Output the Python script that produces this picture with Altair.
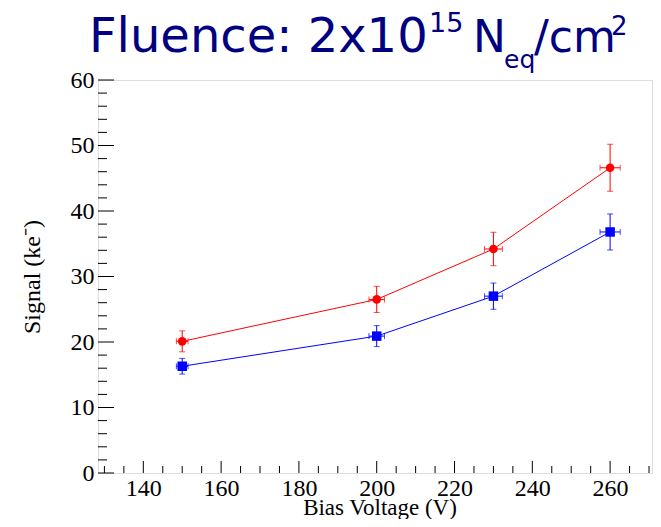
import altair as alt
import pandas as pd

# ---- data ----
voltage = [150, 200, 230, 260]
voltage_err = [1.5, 2.0, 2.3, 2.6]
red_signal = [20.1, 26.5, 34.2, 46.6]
red_err = [1.6, 2.0, 2.55, 3.6]
blue_signal = [16.3, 20.9, 27.0, 36.8]
blue_err = [1.2, 1.6, 2.0, 2.75]

x_major = [140, 160, 180, 200, 220, 240, 260]
x_minor = [v for v in range(130, 275, 5) if v not in x_major]
y_major = [0, 10, 20, 30, 40, 50, 60]
y_minor = [v for v in range(0, 61, 2) if v not in y_major]

title_parts = ["Fluence: 2x10", "15", "N", "eq", "/cm", "2"]
x_title = "Bias Voltage (V)"
y_title = "Signal (ke⁻)"

# ---- layout ----
W, H = 554, 393
# (x, baseline y, font size) relative to plot area's top-left
title_pos = [(-9, -28.5, 48), (331, -48, 27), (375, -28.5, 44), (406, -12, 25), (436, -28.5, 44), (513, -45, 26)]

rows = []
for name, sig, err in (("red", red_signal, red_err), ("blue", blue_signal, blue_err)):
    for v, ve, s, se in zip(voltage, voltage_err, sig, err):
        rows.append(dict(series=name, v=v, vlo=v - ve, vhi=v + ve, s=s, slo=s - se, shi=s + se))
df = pd.DataFrame(rows)

xscale = alt.Scale(domain=[128.35, 128.35 + W / 3.89], nice=False, zero=False)
yscale = alt.Scale(domain=[0, 60], nice=False, zero=False)
xaxis = alt.Axis(values=x_major, ticks=False, domain=False, grid=False,
                 labelFont="Liberation Serif", labelFontSize=24, labelColor="black",
                 labelPadding=3, title=None)
yaxis = alt.Axis(values=y_major, ticks=False, domain=False, grid=False,
                 labelFont="Liberation Serif", labelFontSize=24, labelColor="black",
                 labelPadding=4, title=y_title, titleFont="Liberation Serif",
                 titleFontSize=24, titleFontWeight="normal", titleColor="black", titlePadding=26)


def X(f):
    return alt.X(f, type="quantitative", scale=xscale, axis=xaxis)


def Y(f):
    return alt.Y(f, type="quantitative", scale=yscale, axis=yaxis)


color = alt.Color("series:N", scale=alt.Scale(domain=["red", "blue"], range=["#ff0000", "#0000ff"]), legend=None)
shape = alt.Shape("series:N", scale=alt.Scale(domain=["red", "blue"], range=["circle", "square"]), legend=None)

base = alt.Chart(df)
lines = base.mark_line(strokeWidth=1).encode(x=X("v"), y=Y("s"), color=color, detail="series:N")
vbars = base.mark_rule(strokeWidth=1).encode(x=X("v"), y=Y("slo"), y2="shi", color=color)
hbars = base.mark_rule(strokeWidth=1).encode(x=X("vlo"), x2="vhi", y=Y("s"), color=color)
vcap_lo = base.mark_tick(orient="horizontal", size=6, thickness=1).encode(x=X("v"), y=Y("slo"), color=color)
vcap_hi = base.mark_tick(orient="horizontal", size=6, thickness=1).encode(x=X("v"), y=Y("shi"), color=color)
hcap_lo = base.mark_tick(orient="vertical", size=6, thickness=1).encode(x=X("vlo"), y=Y("s"), color=color)
hcap_hi = base.mark_tick(orient="vertical", size=6, thickness=1).encode(x=X("vhi"), y=Y("s"), color=color)
points = base.mark_point(filled=True, opacity=1).encode(
    x=X("v"), y=Y("s"), color=color, shape=shape,
    size=alt.condition(alt.datum.series == "red", alt.value(75), alt.value(90)))

# inward ticks
xmaj = alt.Chart(pd.DataFrame({"t": x_major})).mark_rule(color="black", strokeWidth=1).encode(
    x=X("t"), y=alt.value(H), y2=alt.value(H - 12))
xmin = alt.Chart(pd.DataFrame({"t": x_minor})).mark_rule(color="black", strokeWidth=1).encode(
    x=X("t"), y=alt.value(H), y2=alt.value(H - 7))
ymaj = alt.Chart(pd.DataFrame({"t": y_major})).mark_rule(color="black", strokeWidth=1).encode(
    y=Y("t"), x=alt.value(0), x2=alt.value(16))
ymin = alt.Chart(pd.DataFrame({"t": y_minor})).mark_rule(color="black", strokeWidth=1).encode(
    y=Y("t"), x=alt.value(0), x2=alt.value(9))

titles = []
for txt, (px, py, fs) in zip(title_parts, title_pos):
    titles.append(alt.Chart(pd.DataFrame({"t": [txt]})).mark_text(
        align="left", baseline="alphabetic", font="DejaVu Sans", fontSize=fs, color="#000080"
    ).encode(text="t:N", x=alt.value(px), y=alt.value(py)))

xt = alt.Chart(pd.DataFrame({"t": [x_title]})).mark_text(
    align="center", baseline="alphabetic", font="Liberation Serif", fontSize=23, color="black"
).encode(text="t:N", x=alt.value(282), y=alt.value(H + 42))

chart = alt.layer(xmaj, xmin, ymaj, ymin, lines, vbars, hbars, vcap_lo, vcap_hi, hcap_lo, hcap_hi,
                  points, xt, *titles).properties(
    width=W, height=H, autosize="none",
    padding={"left": 90, "top": 72, "right": 1, "bottom": 46},
).configure_view(stroke="#707070", strokeWidth=2).configure(background="white")

chart.save("out.html", embed_options={"renderer": "svg", "actions": False})
